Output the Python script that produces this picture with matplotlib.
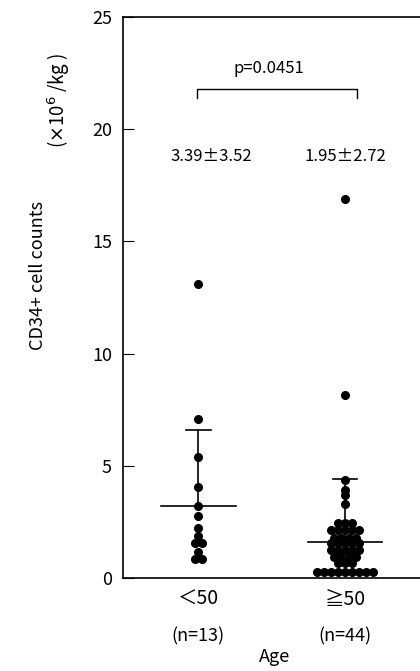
import matplotlib
matplotlib.use('Agg')
import matplotlib.pyplot as plt

plt.rcParams['font.family'] = ['Liberation Sans Narrow', 'Noto Sans CJK JP', 'DejaVu Sans']

# values
group_labels = ['＜50', '≧50']
group_n = ['(n=13)', '(n=44)']
stats_text = ['3.39±3.52', '1.95±2.72']
p_text = 'p=0.0451'

old_rows = [
    # (value, count)
    (16.9, 1), (8.16, 1), (4.36, 1), (3.91, 1), (3.69, 1), (3.29, 1),
    (2.46, 3), (2.16, 5), (1.78, 4), (1.55, 5), (1.24, 5), (0.93, 4),
    (0.67, 3), (0.28, 9),
]
young_rows = [
    (13.1, 1), (7.1, 1), (5.39, 1), (4.06, 1), (3.2, 1), (2.77, 1),
    (2.21, 1), (1.88, 1), (1.54, 2), (1.17, 1), (0.84, 2),
]
mean_line = [3.2, 1.61]
upper_cap = [6.6, 4.39]


def beeswarm_x(center, rows, step):
    xs, ys = [], []
    for val, cnt in rows:
        for k in range(cnt):
            xs.append(center + (k - (cnt - 1) / 2) * step)
            ys.append(val)
    return xs, ys


fig = plt.figure(figsize=(4.2, 6.71), dpi=100)
ax = fig.add_axes([0.293, 0.1386, 0.72, 0.836])
ax.set_xlim(0.486, 2.549)
ax.set_ylim(0, 25)

step = 0.048
for i, rows in enumerate([young_rows, old_rows]):
    xs, ys = beeswarm_x(i + 1, rows, step)
    ax.plot(xs, ys, 'o', color='black', markersize=5.5, clip_on=False)
    c = i + 1
    ax.plot([c - 0.255, c + 0.255], [mean_line[i]] * 2, color='black', lw=1.2)
    ax.plot([c, c], [mean_line[i], upper_cap[i]], color='black', lw=1.2)
    ax.plot([c - 0.085, c + 0.085], [upper_cap[i]] * 2, color='black', lw=1.2)
    ax.text(c + 0.09 * (1 - i), 18.8, stats_text[i], ha='center', va='center',
            fontsize=12)

# significance bracket
ax.plot([0.99, 0.99, 2.08, 2.08], [21.4, 21.8, 21.8, 21.4], color='black', lw=1)
ax.text(1.48, 22.7, p_text, ha='center', va='center', fontsize=12)

ax.spines['right'].set_visible(False)
ax.spines['left'].set_linewidth(1.2)
ax.spines['bottom'].set_linewidth(1.2)
ax.spines['top'].set_linewidth(1.2)
ax.set_yticks([0, 5, 10, 15, 20, 25])
ax.tick_params(axis='y', direction='in', length=8, labelsize=13, pad=8)
ax.set_xticks([1, 2])
ax.set_xticklabels(group_labels, fontsize=14)
ax.tick_params(axis='x', length=0, pad=8)
for i, t in enumerate(group_n):
    ax.text(i + 1, -2.6, t, ha='center', va='center', fontsize=13,
            transform=ax.transData, clip_on=False)
ax.set_xlabel('Age', fontsize=13, labelpad=27)

fig.text(0.09, 0.59, 'CD34+ cell counts', rotation=90, ha='center',
         va='center', fontsize=13)
fig.text(0.14, 0.85, r'($\times$10$^6$ /kg )', rotation=90, ha='center',
         va='center', fontsize=13.5)

fig.savefig('out.png', dpi=100)
